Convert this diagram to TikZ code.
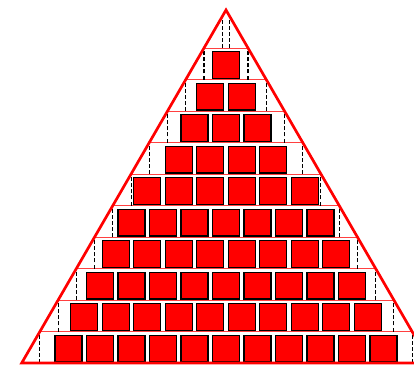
\documentclass[tikz,border=0pt]{standalone}
\usepackage{xcolor}
\usepackage{tikz}

\begin{document}
\begin{tikzpicture}[
    x=0.945cm, y=0.945cm,
    brick/.style={draw=black, fill=red, line width=1.1pt},
    rim/.style={draw=red, line width=2.3pt, line join=miter},
    level/.style={draw=red!75, line width=0.8pt},
    cut/.style={draw=black, dash pattern=on 3.4pt off 1.8pt, line width=0.9pt},
]
    \useasboundingbox (-7.175, -0.095) rectangle (5.968, 11.524);
    \clip (-7.175, -0.095) rectangle (5.968, 11.524);

    \coordinate (apex) at (0, 11.206);
    \coordinate (bl)   at (-6.486, 0);
    \coordinate (br)   at ( 6.486, 0);

    \foreach \k in {1,...,10} {
        \pgfmathsetmacro{\w}{0.5788*(11.206-\k)}
        \draw[level] (-\w, \k) -- (\w, \k);
    }

    \foreach \k in {0,...,10} {
        \pgfmathsetmacro{\w}{0.5788*(11.206-\k-1)}
        \draw[cut] (-\w, \k) -- (-\w, \k+1);
        \draw[cut] ( \w, \k) -- ( \w, \k+1);
    }

    \foreach \k/\n in {0/11, 1/10, 2/9, 3/8, 4/7, 5/6, 6/4, 7/3, 8/2, 9/1} {
        \foreach \j in {1,...,\n} {
            \pgfmathsetmacro{\c}{\j-(\n+1)/2}
            \draw[brick] (\c-0.43, \k+0.03) rectangle (\c+0.43, \k+0.88);
        }
    }

    \draw[rim] (bl) -- (apex) -- (br) -- cycle;
\end{tikzpicture}
\end{document}
